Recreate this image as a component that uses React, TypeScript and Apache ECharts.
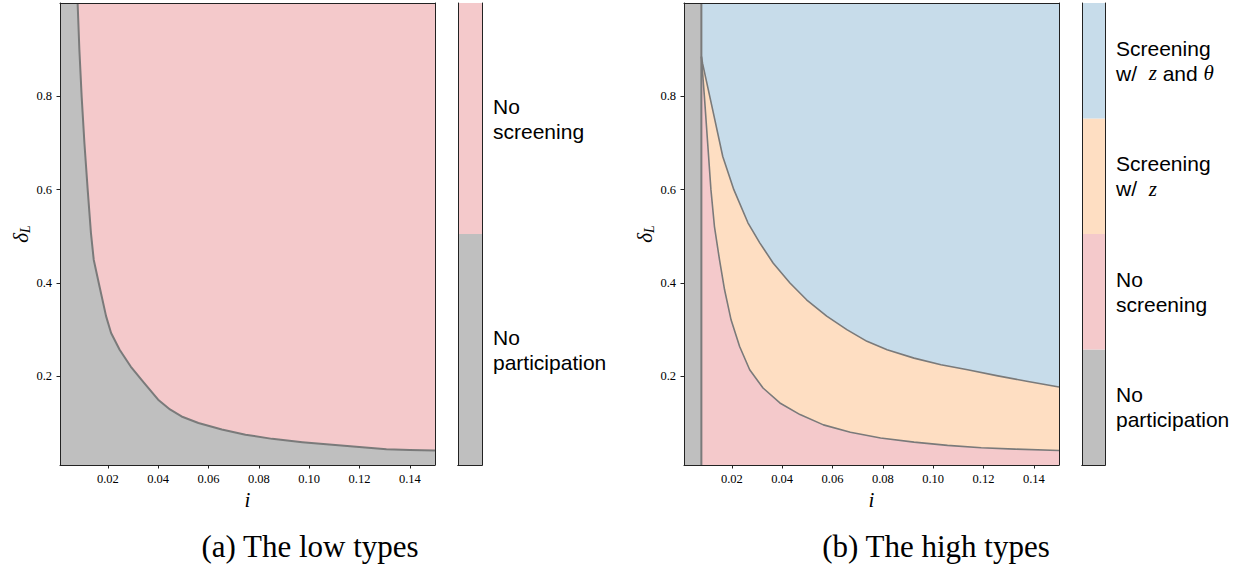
import React, { useEffect, useRef } from "react";
import * as echarts from "echarts";

// ---- data ----
const xTicks = [0.02, 0.04, 0.06, 0.08, 0.1, 0.12, 0.14];
const yTicks = [0.2, 0.4, 0.6, 0.8];
const iMin = 0.001;
const iMax = 0.15;
const dMin = 0.01;
const dMax = 1.0;

// (a) low types: participation boundary
const lowBoundaryI = [0.008, 0.0087, 0.0096, 0.0107, 0.012, 0.0133, 0.0144, 0.0164, 0.0193, 0.0213, 0.0247, 0.0291, 0.0344, 0.04, 0.0447, 0.0493, 0.056, 0.0653, 0.0747, 0.0853, 0.0973, 0.108, 0.1187, 0.1307, 0.14, 0.15];
const lowBoundaryD = [1.0, 0.9, 0.8, 0.7, 0.6, 0.507, 0.45, 0.4, 0.329, 0.293, 0.257, 0.221, 0.186, 0.15, 0.129, 0.114, 0.1, 0.086, 0.075, 0.066, 0.059, 0.054, 0.049, 0.044, 0.042, 0.041];

// (b) high types
const highParticipationI = 0.0079;
const highLowerI = [0.0079, 0.0091, 0.0104, 0.0117, 0.0131, 0.0151, 0.0171, 0.0197, 0.0231, 0.0271, 0.0324, 0.0391, 0.0471, 0.0564, 0.0671, 0.0791, 0.0924, 0.1057, 0.1191, 0.1324, 0.15];
const highLowerD = [0.885, 0.8, 0.7, 0.6, 0.521, 0.45, 0.386, 0.321, 0.264, 0.214, 0.175, 0.143, 0.118, 0.096, 0.08, 0.068, 0.059, 0.052, 0.047, 0.044, 0.041];
const highUpperI = [0.0079, 0.0084, 0.0124, 0.0164, 0.0208, 0.0264, 0.0311, 0.0364, 0.0431, 0.0497, 0.0577, 0.0657, 0.0737, 0.0817, 0.0924, 0.1031, 0.1137, 0.1257, 0.1377, 0.15];
const highUpperD = [0.885, 0.87, 0.771, 0.671, 0.6, 0.529, 0.486, 0.443, 0.4, 0.364, 0.329, 0.3, 0.275, 0.257, 0.239, 0.225, 0.214, 0.201, 0.189, 0.177];

const lowLegend = ["No\nparticipation", "No\nscreening"];
const highLegend = [
  "No\nparticipation",
  "No\nscreening",
  "Screening\nw/  {m|z}",
  "Screening\nw/  {m|z} and {m|θ}",
];

const GRAY = "#bfbfbf";
const PINK = "#f4c9cb";
const ORANGE = "#fedec2";
const BLUE = "#c7dcea";
const LINE = "#7a7a7a";
const FRAME = "#222";

const lowColors = [GRAY, PINK];
const highColors = [GRAY, PINK, ORANGE, BLUE];

const zip = (a: number[], b: number[]) => a.map((v, k) => [v, b[k]]);

const SERIF = "'Liberation Serif', 'DejaVu Serif', serif";
const SANS = "'Liberation Sans', Arial, sans-serif";

function mainAxes(gridIndex: number) {
  const x = [
    {
      type: "value",
      gridIndex,
      min: iMin,
      max: iMax,
      position: "bottom",
      z: 10,
      splitLine: { show: false },
      axisLine: { show: true, lineStyle: { color: FRAME, width: 1 } },
      axisTick: { show: true, length: 3.5, customValues: xTicks, lineStyle: { color: FRAME } },
      axisLabel: {
        show: true,
        customValues: xTicks,
        formatter: (v: number) => v.toFixed(2),
        fontFamily: SERIF,
        fontSize: 12.5,
        color: "#000",
        margin: 7,
      },
      name: "i",
      nameLocation: "middle",
      nameGap: 22,
      nameTextStyle: { fontFamily: SERIF, fontStyle: "italic", fontSize: 21, color: "#000" },
    },
    {
      type: "value",
      gridIndex,
      min: iMin,
      max: iMax,
      position: "top",
      z: 10,
      splitLine: { show: false },
      axisLine: { show: true, lineStyle: { color: FRAME, width: 1 } },
      axisTick: { show: false },
      axisLabel: { show: false },
    },
  ];
  const y = [
    {
      type: "value",
      gridIndex,
      min: dMin,
      max: dMax,
      position: "left",
      z: 10,
      splitLine: { show: false },
      axisLine: { show: true, lineStyle: { color: FRAME, width: 1 } },
      axisTick: { show: true, length: 3.5, customValues: yTicks, lineStyle: { color: FRAME } },
      axisLabel: {
        show: true,
        customValues: yTicks,
        formatter: (v: number) => v.toFixed(1),
        fontFamily: SERIF,
        fontSize: 12.5,
        color: "#000",
        margin: 8,
      },
      name: "{a|δ}{b|L}",
      nameLocation: "middle",
      nameRotate: 90,
      nameGap: 24,
      nameTextStyle: {
        rich: {
          a: { fontFamily: SERIF, fontStyle: "italic", fontSize: 21, color: "#000" },
          b: { fontFamily: SERIF, fontStyle: "italic", fontSize: 14, color: "#000", padding: [9, 0, 0, 0] },
        },
      },
    },
    {
      type: "value",
      gridIndex,
      min: dMin,
      max: dMax,
      position: "right",
      z: 10,
      splitLine: { show: false },
      axisLine: { show: true, lineStyle: { color: FRAME, width: 1 } },
      axisTick: { show: false },
      axisLabel: { show: false },
    },
  ];
  return { x, y };
}

function cbAxes(gridIndex: number, n: number) {
  const x = ["bottom", "top"].map((p) => ({
    type: "category",
    gridIndex,
    data: ["c"],
    position: p,
    z: 10,
    axisLine: { show: true, lineStyle: { color: FRAME, width: 1 } },
    axisTick: { show: false },
    axisLabel: { show: false },
    splitLine: { show: false },
  }));
  const y = ["left", "right"].map((p) => ({
    type: "value",
    gridIndex,
    min: 0,
    max: n,
    position: p,
    z: 10,
    axisLine: { show: true, lineStyle: { color: FRAME, width: 1 } },
    axisTick: { show: false },
    axisLabel: { show: false },
    splitLine: { show: false },
  }));
  return { x, y };
}

function areaSeries(xi: number, yi: number, data: number[][], color: string, z: number) {
  return {
    type: "line",
    xAxisIndex: xi,
    yAxisIndex: yi,
    data,
    showSymbol: false,
    symbol: "none",
    smooth: false,
    lineStyle: { width: 0, color },
    areaStyle: { color, opacity: 1, origin: "start" },
    z,
    silent: true,
  };
}

function lineSeries(xi: number, yi: number, data: number[][], width: number, z: number) {
  return {
    type: "line",
    xAxisIndex: xi,
    yAxisIndex: yi,
    data,
    showSymbol: false,
    symbol: "none",
    smooth: false,
    lineStyle: { width, color: LINE, join: "round" },
    z,
    silent: true,
  };
}

function cbSeries(xi: number, yi: number, labels: string[], colors: string[]) {
  return labels.map((lab, k) => ({
    type: "bar",
    xAxisIndex: xi,
    yAxisIndex: yi,
    stack: "cb" + xi,
    data: [1],
    barWidth: "100%",
    itemStyle: { color: colors[k] },
    label: {
      show: true,
      position: "right",
      distance: 11,
      formatter: lab,
      color: "#000",
      fontFamily: SANS,
      fontSize: 21,
      lineHeight: 25,
      align: "left",
      rich: {
        m: { fontFamily: SERIF, fontStyle: "italic", fontSize: 21, color: "#000", lineHeight: 25 },
      },
    },
    silent: true,
  }));
}

export default function App() {
  const ref = useRef<HTMLDivElement>(null);
  useEffect(() => {
    if (!ref.current) return;
    const chart = echarts.init(ref.current, undefined, { renderer: "svg" });
    const a = mainAxes(0);
    const b = mainAxes(2);
    const ca = cbAxes(1, lowLegend.length);
    const cb = cbAxes(3, highLegend.length);

    const option: any = {
      animation: false,
      backgroundColor: "#fff",
      grid: [
        { left: 60, top: 3, width: 375, height: 462, show: true, backgroundColor: PINK, borderWidth: 0 },
        { left: 458, top: 3, width: 24, height: 462, show: false },
        { left: 684, top: 3, width: 375, height: 462, show: true, backgroundColor: BLUE, borderWidth: 0 },
        { left: 1082, top: 3, width: 23, height: 462, show: false },
      ],
      // axis order: 0,1 = left main (bottom/top); 2,3 = right main; 4,5 = left cb; 6,7 = right cb
      xAxis: [...a.x, ...b.x, ...ca.x, ...cb.x],
      yAxis: [...a.y, ...b.y, ...ca.y, ...cb.y],
      series: [
        // (a)
        areaSeries(0, 0, [[iMin, dMax], ...zip(lowBoundaryI, lowBoundaryD)], GRAY, 2),
        lineSeries(0, 0, zip(lowBoundaryI, lowBoundaryD), 2, 5),
        // (b)
        areaSeries(2, 2, zip(highUpperI, highUpperD), ORANGE, 2),
        areaSeries(2, 2, zip(highLowerI, highLowerD), PINK, 3),
        {
          type: "line",
          xAxisIndex: 2,
          yAxisIndex: 2,
          data: [
            [iMin, dMax],
            [highParticipationI, dMax],
          ],
          showSymbol: false,
          symbol: "none",
          lineStyle: { width: 0 },
          areaStyle: { color: GRAY, opacity: 1, origin: "start" },
          z: 4,
          silent: true,
        },
        lineSeries(2, 2, zip(highUpperI, highUpperD), 1.6, 5),
        lineSeries(2, 2, zip(highLowerI, highLowerD), 1.6, 5),
        {
          type: "line",
          xAxisIndex: 2,
          yAxisIndex: 2,
          data: [
            [highParticipationI, dMin],
            [highParticipationI, dMax],
          ],
          showSymbol: false,
          symbol: "none",
          lineStyle: { width: 2, color: LINE },
          z: 6,
          silent: true,
        },
        // colorbars
        ...cbSeries(4, 4, lowLegend, lowColors),
        ...cbSeries(6, 6, highLegend, highColors),
      ],
      graphic: [
        {
          type: "text",
          x: 310,
          y: 546,
          style: {
            text: "(a) The low types",
            fontFamily: SERIF,
            fontSize: 31,
            fill: "#000",
            align: "center",
            verticalAlign: "middle",
          },
        },
        {
          type: "text",
          x: 936,
          y: 546,
          style: {
            text: "(b) The high types",
            fontFamily: SERIF,
            fontSize: 31,
            fill: "#000",
            align: "center",
            verticalAlign: "middle",
          },
        },
      ],
    };
    chart.setOption(option);
    return () => chart.dispose();
  }, []);
  return (
    <div
      ref={ref}
      style={{ position: "fixed", left: 0, top: 0, width: 1250, height: 580, background: "#fff" }}
    />
  );
}
